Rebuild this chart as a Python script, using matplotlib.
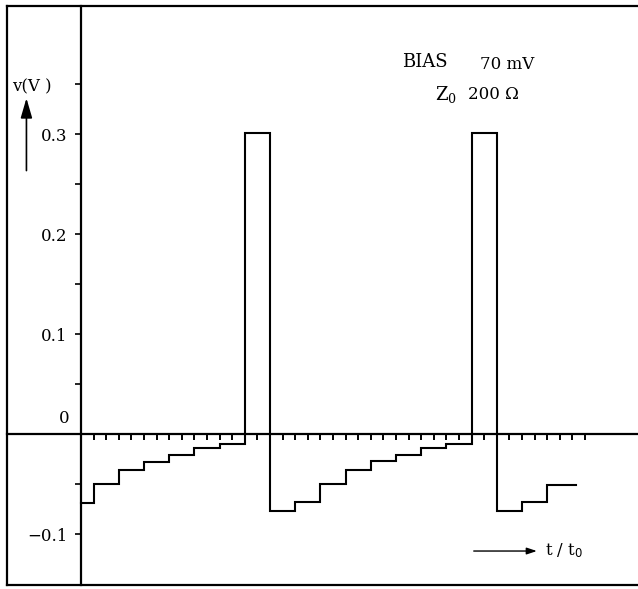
import numpy as np
import matplotlib.pyplot as plt
from matplotlib.lines import Line2D

plt.rcParams['font.family'] = ['DejaVu Serif']
plt.rcParams['mathtext.fontset'] = 'dejavuserif'

# step boundaries (units of t0) and voltage levels between them
t_edges = [0, 1, 3, 5, 7, 9, 11, 13, 15, 17, 19, 21, 23, 25, 27, 29, 31, 33, 35, 37, 39.3]
v_levels = [-0.069, -0.050, -0.036, -0.028, -0.021, -0.014, -0.010, 0.301,
            -0.077, -0.068, -0.050, -0.036, -0.027, -0.021, -0.014, -0.010, 0.301,
            -0.077, -0.068, -0.051]

ytick_major = [-0.1, 0.1, 0.2, 0.3]
ytick_labels = ['\u22120.1', '0.1', '0.2', '0.3']
ytick_minor = [-0.05, 0.05, 0.15, 0.25, 0.35]
xtick_pos = list(range(1, 41))

fig = plt.figure(figsize=(6.38, 5.89), dpi=100)
ax = fig.add_axes([7 / 638, 4.5 / 589, 631 / 638, 579 / 589])
ax.set_xlim(-74 / 12.6, 557 / 12.6)
ax.set_ylim(-0.1505, 0.429)

# waveform as stairs
xs = []
ys = []
for i, v in enumerate(v_levels):
    xs += [t_edges[i], t_edges[i + 1]]
    ys += [v, v]
ax.plot(xs, ys, color='black', lw=1.5, solid_joinstyle='miter')

# axes through origin
for s in ['top', 'right']:
    ax.spines[s].set_visible(False)
ax.spines['left'].set_position(('data', 0))
ax.spines['bottom'].set_position(('data', 0))
ax.spines['left'].set_linewidth(1.6)
ax.spines['bottom'].set_linewidth(1.6)

# outer frame (left, top, bottom only)
for xy in [([0, 0], [0, 1]), ([0, 1], [1, 1]), ([0, 1], [0, 0])]:
    ax.add_line(Line2D(xy[0], xy[1], transform=ax.transAxes, color='black',
                       lw=1.6, clip_on=False))

ax.set_yticks(ytick_major)
ax.set_yticklabels(ytick_labels, fontsize=12)
ax.set_yticks(ytick_minor, minor=True)
ax.tick_params(axis='y', which='both', direction='out', length=4.5, width=1.2, pad=5)
ax.set_xticks(xtick_pos)
ax.set_xticklabels([])
ax.tick_params(axis='x', which='both', direction='out', length=4.5, width=1.4)
ax.text(-0.95, 0.007, '0', ha='right', va='bottom', fontsize=12)

# y-axis label with arrow
ax.text(-5.45, 0.348, 'v(V )', ha='left', va='center', fontsize=12)
ax.annotate('', xy=(-4.33, 0.339), xytext=(-4.33, 0.261),
            arrowprops=dict(arrowstyle='-|>,head_width=0.35,head_length=1.2',
                            color='black', lw=1.2))

# x-axis label with arrow
ax.annotate('', xy=(36.4, -0.117), xytext=(30.95, -0.117),
            arrowprops=dict(arrowstyle='-|>,head_width=0.2,head_length=0.6',
                            color='black', lw=1.0))
ax.text(36.8, -0.117, r't / t$_{\mathsf{0}}$', ha='left', va='center', fontsize=12)

# annotation
ax.text(25.5, 0.372, 'BIAS', ha='left', va='center', fontsize=13)
ax.text(31.7, 0.370, '70 mV', ha='left', va='center', fontsize=12)
ax.text(28.1, 0.340, r'Z$_{0}$', ha='left', va='center', fontsize=13)
ax.text(30.7, 0.340, '200 \u03a9', ha='left', va='center', fontsize=12)

fig.savefig('out.png', dpi=100)
